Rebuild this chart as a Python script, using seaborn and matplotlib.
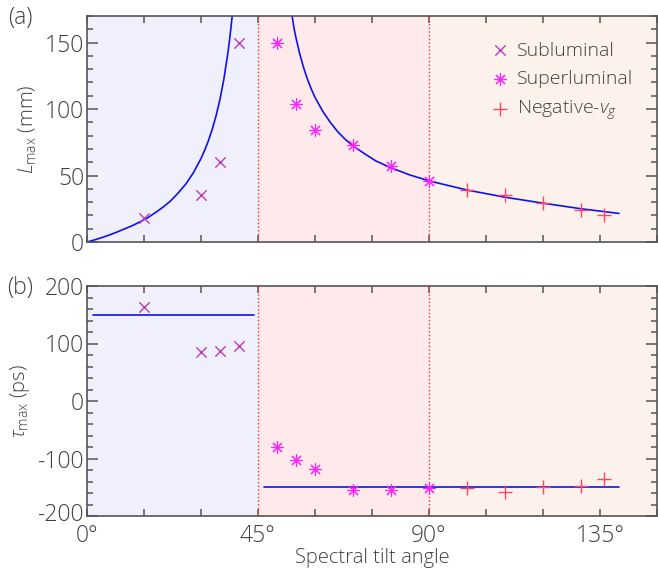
import numpy as np
import pandas as pd
import matplotlib
matplotlib.use("Agg")
import matplotlib.pyplot as plt
import matplotlib.transforms as mtransforms
import seaborn as sns
from matplotlib.ticker import MultipleLocator

# ---- data ----
sub_angle = [15, 30, 35, 40]
sub_L = [18, 35, 60, 150]
sub_tau = [163, 85, 87, 95]

sup_angle = [50, 55, 60, 70, 80, 90]
sup_L = [150, 104, 84, 73, 57, 46]
sup_tau = [-80, -103, -118, -155, -155, -152]

neg_angle = [100, 110, 120, 130, 136]
neg_L = [39, 35, 29, 24, 20.5]
neg_tau = [-151, -159, -150, -147, -135]

# theory curve
fit_left_angle = [0, 2, 4, 6, 8, 10, 12, 14, 16, 18, 20, 22, 24, 26, 28, 30, 31,
                  32, 33, 34, 35, 36, 37, 37.5, 38, 38.4]
fit_left_L = [0, 1.6, 3.4, 5.4, 7.6, 10.0, 12.4, 15.2, 18.3, 22.1, 26.2, 30.9,
              36.9, 43.6, 52.1, 62.8, 69.2, 76.6, 85.2, 95.3, 107.4, 122.2,
              140.7, 151.6, 164.3, 175]
fit_right_angle = [53.7, 54.5, 55, 56, 57, 58, 59, 60, 62, 64, 66, 68, 70, 73,
                   76, 80, 85, 90, 100, 110, 120, 130, 140]
fit_right_L = [175, 160.5, 153.5, 141.3, 131.2, 122.6, 115.2, 108.8, 98.5,
               90.1, 82.9, 77.1, 72.3, 66.5, 61.0, 55.8, 50.4, 46, 39.1, 33.7,
               29.2, 25.0, 21.5]

tau_fit_left_angle = [1.5, 44]
tau_fit_left = [150, 150]
tau_fit_right_angle = [46.5, 140]
tau_fit_right = [-150, -150]

regions = [(0, 45, "#f0f0fc"), (45, 90, "#feeaea"), (90, 150, "#fdf1ec")]

# ---- style ----
sns.set_style("ticks")
plt.rcParams["font.family"] = ["Open Sans", "DejaVu Sans"]
plt.rcParams["font.weight"] = "light"
plt.rcParams["axes.labelweight"] = "light"
plt.rcParams["axes.unicode_minus"] = False
plt.rcParams["mathtext.fontset"] = "custom"
plt.rcParams["mathtext.rm"] = "Open Sans:light"
plt.rcParams["mathtext.it"] = "Open Sans:italic:light"

TXT = "#404040"
SPINE = "#555555"
C_SUB = "#bb3cbb"
C_SUP = "#ff22ff"
C_NEG = "#ff4560"
C_FIT = "#1010f0"
FS_TICK = 16.5
FS_LAB = 14.5
FS_LEG = 14

fig = plt.figure(figsize=(6.58, 5.69), dpi=100)
ax1 = fig.add_axes([87 / 658, 1 - 242 / 569, 570 / 658, 226 / 569])
ax2 = fig.add_axes([87 / 658, 1 - 516 / 569, 570 / 658, 230 / 569])

ast = (8, 2, 0)

def draw(ax, yvals, fits):
    for x0, x1, c in regions:
        ax.axvspan(x0, x1, color=c, lw=0, zorder=0)
    for xv in (45, 90):
        ax.axvline(xv, color="#ff3030", ls=":", lw=1.0, zorder=1)
    for fx, fy in fits:
        d = pd.DataFrame({"a": fx, "v": fy})
        sns.lineplot(data=d, x="a", y="v", ax=ax, color=C_FIT, lw=1.2,
                     sort=False, estimator=None, zorder=2)
    sub, sup, neg = yvals
    sns.scatterplot(x=sub_angle, y=sub, ax=ax, marker="x", s=55, color=C_SUB,
                    linewidth=1.0, label="Subluminal", zorder=3)
    sns.scatterplot(x=sup_angle, y=sup, ax=ax, marker=ast, s=75, color=C_SUP,
                    edgecolor=C_SUP, linewidth=0.8, label="Superluminal", zorder=3)
    sns.scatterplot(x=neg_angle, y=neg, ax=ax, marker="+", s=95, color=C_NEG,
                    linewidth=1.0, label="Negative-$v_g$", zorder=3)
    ax.set_xlim(0, 150)
    ax.set_xticks(range(0, 151, 15))
    ax.tick_params(axis="both", which="both", direction="in", top=True, right=True,
                   colors=SPINE, labelcolor=TXT, labelsize=FS_TICK, width=1.1)
    ax.tick_params(axis="x", length=5, pad=6)
    ax.tick_params(axis="y", which="major", length=8, pad=2)
    ax.tick_params(axis="y", which="minor", length=4.5)
    for s in ax.spines.values():
        s.set_color(SPINE)
        s.set_linewidth(1.2)
    ax.set_xlabel("")

draw(ax1, (sub_L, sup_L, neg_L),
     [(fit_left_angle, fit_left_L), (fit_right_angle, fit_right_L)])
ax1.set_ylim(0, 170)
ax1.yaxis.set_major_locator(MultipleLocator(50))
ax1.yaxis.set_minor_locator(MultipleLocator(10))
ax1.set_xticklabels([])
ax1.set_ylabel(r"$L_{\rm max}$ (mm)", fontsize=FS_LAB, color=TXT, labelpad=4)
leg = ax1.legend(loc="upper left", bbox_to_anchor=(0.69, 0.93), frameon=False,
                 fontsize=FS_LEG, handlelength=1.0, handletextpad=0.4,
                 labelspacing=0.55, borderpad=0)
for t in leg.get_texts():
    t.set_color(TXT)

draw(ax2, (sub_tau, sup_tau, neg_tau),
     [(tau_fit_left_angle, tau_fit_left), (tau_fit_right_angle, tau_fit_right)])
ax2.legend_.remove()
ax2.set_ylim(-200, 200)
ax2.yaxis.set_major_locator(MultipleLocator(100))
ax2.yaxis.set_minor_locator(MultipleLocator(20))
ax2.set_xticklabels(["0°", "", "", "45°", "", "", "90°", "", "", "135°", ""])
ax2.set_ylabel(r"$\tau_{\rm max}$ (ps)", fontsize=FS_LAB, color=TXT, labelpad=4)
ax2.set_xlabel("Spectral tilt angle", fontsize=FS_LAB, color=TXT, labelpad=0)

# nudge the lowest y label up a little so it clears the "0°" label
fig.canvas.draw()
lift = mtransforms.ScaledTranslation(0, 3 / 72, fig.dpi_scale_trans)
for lab in ax2.get_yticklabels():
    if lab.get_text() in ("-200", "\u2212200"):
        lab.set_transform(lab.get_transform() + lift)

fig.text(20 / 658, 1 - 18 / 569, "(a)", fontsize=FS_TICK, color=TXT, ha="center", va="center")
fig.text(20 / 658, 1 - 288 / 569, "(b)", fontsize=FS_TICK, color=TXT, ha="center", va="center")

fig.savefig("out.png", dpi=100)
